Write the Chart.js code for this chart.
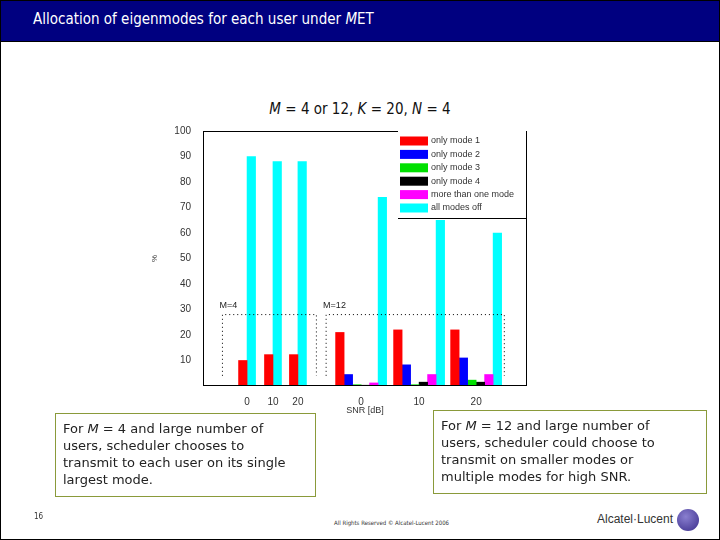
<!DOCTYPE html>
<html><head><meta charset="utf-8">
<script src="https://cdn.jsdelivr.net/npm/chart.js@4/dist/chart.umd.min.js"></script>
<style>
body{margin:0;width:720px;height:540px;position:relative;background:#fff;font-family:"DejaVu Sans Condensed","DejaVu Sans",sans-serif;overflow:hidden}
#frame{position:absolute;left:0;top:0;width:718px;height:538px;border:1px solid #000}
#hdr{position:absolute;left:0;top:0;background:#000080;border:1px solid #000;color:#fff;font-size:15px;line-height:36px;padding-left:32px;box-sizing:border-box;width:720px;height:42px}
#ttl{position:absolute;left:0;width:720px;top:100px;text-align:center;font-size:15px;color:#111}
.box{position:absolute;border:1px solid #8a9a3a;font-family:"DejaVu Sans",sans-serif;font-size:13px;line-height:17px;color:#222;padding:6px 7px;box-sizing:border-box;white-space:nowrap}
#cw{position:absolute;left:150px;top:120px;width:390px;height:300px}
.ft{position:absolute;font-size:8px;color:#333}
</style></head><body>
<div id="frame"></div>
<div id="hdr">Allocation of eigenmodes for each user under <i>M</i>ET</div>
<div id="ttl"><i>M</i> = 4 or 12, <i>K</i> = 20, <i>N</i> = 4</div>
<div id="cw"><canvas id="c" width="390" height="300"></canvas></div>
<div class="box" style="left:55px;top:413px;width:261px;height:84px">For <i>M</i> = 4 and large number of<br>users, scheduler chooses to<br>transmit to each user on its single<br>largest mode.</div>
<div class="box" style="left:433px;top:410px;width:274px;height:84px">For <i>M</i> = 12 and large number of<br>users, scheduler could choose to<br>transmit on smaller modes or<br>multiple modes for high SNR.</div>
<div class="ft" style="left:34px;top:512px">16</div>
<div class="ft" style="left:334px;top:519px;font-size:6px">All Rights Reserved © Alcatel-Lucent 2006</div>
<div class="ft" style="left:597px;top:512px;font-size:12px;color:#333;font-family:'Liberation Sans',sans-serif">Alcatel·Lucent</div>
<div style="position:absolute;left:677px;top:509px;width:22px;height:22px;border-radius:50%;background:radial-gradient(circle at 40% 35%,#8a7fd0,#3a2d8a)"></div>
<script>
const snrLabels=["0","10","20","0","10","20"];
const groupPos=[13.6,21.6,29.3,48.8,66.7,84.3];
const seriesNames=["only mode 1","only mode 2","only mode 3","only mode 4","more than one mode","all modes off"];
const colors=["#ff0000","#0000ff","#00e000","#000000","#ff00ff","#00ffff"];
const mode1=[10,12.3,12.3,21,22,22];
const mode2=[null,null,null,4.5,8.3,11];
const mode3=[null,null,null,0.5,0.5,2.3];
const mode4=[null,null,null,0.3,1.5,1.5];
const multi=[null,null,null,1.2,4.5,4.5];
const off=[90,88,88,74,65,60];
const allSeries=[mode1,mode2,mode3,mode4,multi,off];
const yTicks=[10,20,30,40,50,60,70,80,90,100];
const boxes=[{x0:6,x1:35,label:"M=4"},{x0:38,x1:93,label:"M=12"}];

const deco={id:'deco',
 afterDatasetsDraw(ch){const {ctx,chartArea:a,scales:{x,y}}=ch;
  ctx.save();
  ctx.strokeStyle='#000';ctx.lineWidth=1;ctx.setLineDash([1,3]);
  boxes.forEach(b=>{const l=x.getPixelForValue(b.x0),r=x.getPixelForValue(b.x1),t=y.getPixelForValue(28),bt=y.getPixelForValue(4);
   ctx.beginPath();ctx.moveTo(l,bt);ctx.lineTo(l,t);ctx.lineTo(r,t);ctx.lineTo(r,bt);ctx.stroke();
   ctx.setLineDash([]);ctx.fillStyle='#222';ctx.font='9px "Liberation Sans"';ctx.textBaseline='alphabetic';
   ctx.fillText(b.label,l-3,y.getPixelForValue(30.5));ctx.setLineDash([1,3]);});
  ctx.setLineDash([]);
  ctx.strokeStyle='#000';ctx.strokeRect(a.left+.5,a.top+.5,a.right-a.left-1,a.bottom-a.top-1);
  const lx=a.right-129,ly=a.top,lw=129,lh=87;
  ctx.fillStyle='#fff';ctx.fillRect(lx,ly,lw,lh);
  ctx.beginPath();ctx.moveTo(lx,ly+lh+.5);ctx.lineTo(lx+lw,ly+lh+.5);ctx.moveTo(a.right-.5,ly);ctx.lineTo(a.right-.5,ly+lh);ctx.stroke();
  ctx.font='9px "Liberation Sans"';ctx.textBaseline='middle';
  seriesNames.forEach((n,i)=>{const yy=ly+10+i*13.4;ctx.fillStyle=colors[i];ctx.fillRect(lx+2,yy-4.5,28,9);ctx.fillStyle='#333';ctx.fillText(n,lx+33,yy);});
  ctx.restore();}};

new Chart(document.getElementById('c'),{type:'bar',
 data:{datasets:allSeries.map((s,i)=>({label:seriesNames[i],backgroundColor:colors[i],barThickness:8.5,
   data:s.map((v,j)=>({x:groupPos[j],y:v}))}))},
 options:{responsive:false,animation:false,skipNull:true,
  layout:{padding:{top:11,right:13,left:0,bottom:0}},
  plugins:{legend:{display:false},tooltip:{enabled:false}},
  scales:{
   x:{type:'linear',offset:false,min:0,max:100,grid:{display:false},border:{display:false},
    afterBuildTicks(s){s.ticks=groupPos.map(v=>({value:v}));},
    ticks:{autoSkip:false,maxRotation:0,color:'#333',font:{size:10,family:'Liberation Sans'},padding:2,callback:(v,i)=>snrLabels[i]},
    title:{display:true,text:'SNR [dB]',color:'#333',font:{size:9,family:'Liberation Sans'},padding:{top:0}},
    afterFit(s){s.height=34;}},
   y:{min:0,max:100,grid:{display:false},border:{display:false},
    afterBuildTicks(s){s.ticks=yTicks.map(v=>({value:v}));},
    ticks:{color:'#333',font:{size:10,family:'Liberation Sans'},padding:4},
    title:{display:true,text:'%',color:'#333',font:{size:8,family:'Liberation Sans'},padding:0},
    afterFit(s){s.width=53;}}}},
 plugins:[deco]});
</script></body></html>
